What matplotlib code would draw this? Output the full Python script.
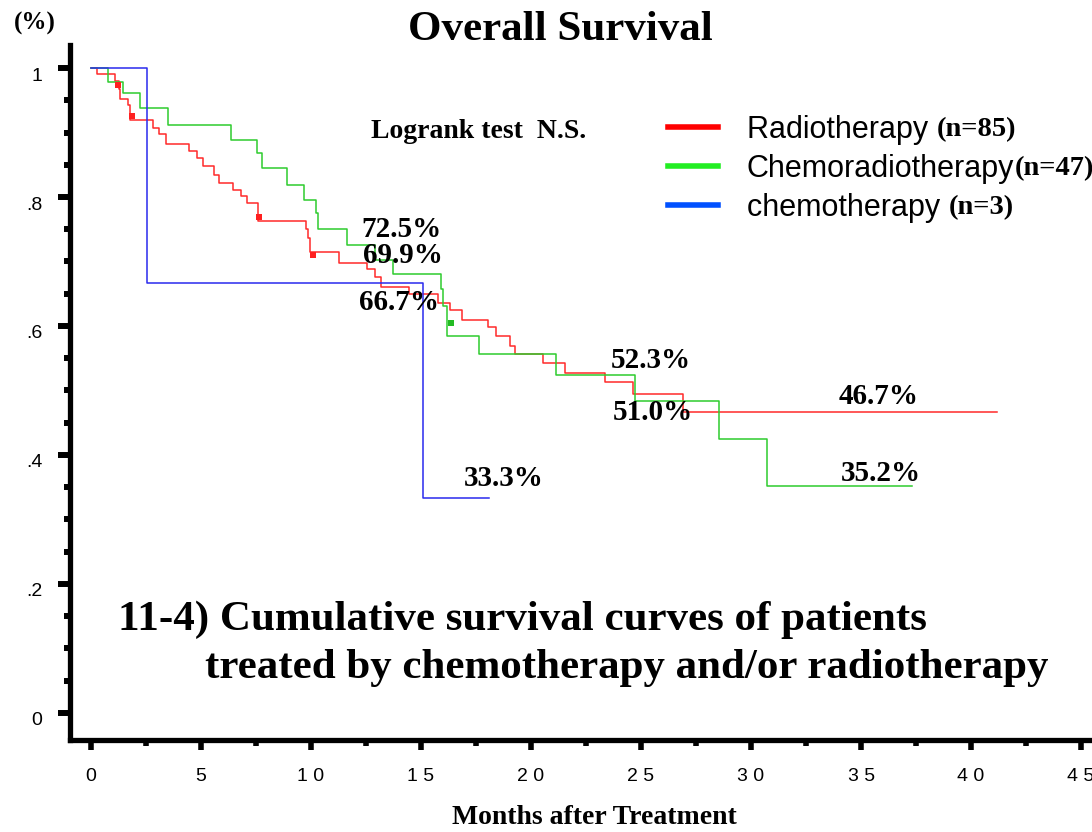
import matplotlib
matplotlib.use('Agg')
import matplotlib.pyplot as plt
from matplotlib.ticker import MultipleLocator, FixedLocator, FixedFormatter
from matplotlib.transforms import ScaledTranslation

# Kaplan-Meier steps: months after treatment, cumulative survival
radio_t = [0, 0.27, 1.09, 1.27, 1.32, 1.69, 1.77, 2.83, 3.09, 3.41, 4.47, 4.83, 5.08,
           5.59, 5.82, 6.47, 6.82, 7.11, 7.58, 9.77, 9.88, 9.95, 11.29, 12.53, 12.91,
           13.17, 14.47, 15.76, 16.32, 16.85, 18.06, 18.41, 19.05, 19.27, 20.56, 21.55,
           23.36, 24.62, 26.92]
radio_s = [1.0, 0.991, 0.980, 0.968, 0.952, 0.942, 0.919, 0.907, 0.898, 0.882, 0.871, 0.860, 0.848,
           0.834, 0.822, 0.811, 0.801, 0.790, 0.763, 0.751, 0.736, 0.715, 0.698, 0.688, 0.676,
           0.661, 0.650, 0.636, 0.625, 0.610, 0.599, 0.584, 0.569, 0.557, 0.543, 0.527,
           0.513, 0.494, 0.467]
radio_end = 41.2
radio_cens_t = [1.24, 1.88, 7.65, 10.1]
radio_cens_s = [0.973, 0.926, 0.769, 0.710]

chemorad_t = [0, 0.79, 1.44, 2.23, 3.51, 6.36, 7.53, 7.79, 8.89, 9.70, 10.23, 10.33, 11.62,
              12.9, 13.74, 15.91, 15.99, 16.17, 17.64, 21.12, 24.73, 28.56, 30.73]
chemorad_s = [1.0, 0.979, 0.961, 0.938, 0.912, 0.889, 0.868, 0.845, 0.819, 0.796, 0.775, 0.751, 0.725,
              0.703, 0.681, 0.658, 0.631, 0.584, 0.557, 0.524, 0.484, 0.424, 0.352]
chemorad_end = 37.3
chemorad_cens_t = [16.35]
chemorad_cens_s = [0.605]

chemo_t = [0, 2.56, 15.1]
chemo_s = [1.0, 0.667, 0.333]
chemo_end = 18.1

# percentage labels (text, month, survival)
pct_labels = ['72.5%', '69.9%', '66.7%', '52.3%', '51.0%', '46.7%', '33.3%', '35.2%']
pct_x = [14.09, 14.18, 14.0, 25.45, 25.55, 35.8, 18.77, 35.9]
pct_y = [0.749, 0.710, 0.636, 0.547, 0.466, 0.490, 0.364, 0.371]

legend_names = ['Radiotherapy ', 'Chemoradiotherapy', 'chemotherapy ']
legend_n = ['(n=85)', '(n=47)', '(n=3)']
legend_colors = ['#ff0000', '#22ee22', '#0050ff']

xtick_vals = [0, 5, 10, 15, 20, 25, 30, 35, 40, 45]
xtick_labels = ['0', '5', '1 0', '1 5', '2 0', '2 5', '3 0', '3 5', '4 0', '4 5']
ytick_vals = [0, 0.2, 0.4, 0.6, 0.8, 1.0]
ytick_labels = ['0', '.2', '.4', '.6', '.8', '1']

W, H = 1092, 832
SERIF = ['Liberation Serif', 'DejaVu Serif']
SANS = ['Liberation Sans', 'DejaVu Sans']


def px(x, y):
    return x / W, 1 - y / H


fig = plt.figure(figsize=(W / 100, H / 100), dpi=100)
ax = fig.add_axes([70 / W, 1 - 740 / H, 1030 / W, (740 - 45) / H])
ax.set_xlim(-0.955, 45.86)
ax.set_ylim(-0.042, 1.0357)


def km(t, s, end):
    return list(t) + [end], list(s) + [s[-1]]


xs, ys = km(radio_t, radio_s, radio_end)
ax.step(xs, ys, where='post', color='#ff2a2a', lw=1.1)
xs, ys = km(chemorad_t, chemorad_s, chemorad_end)
ax.step(xs, ys, where='post', color='#2ecc2e', lw=1.1)
xs, ys = km(chemo_t, chemo_s, chemo_end)
ax.step(xs, ys, where='post', color='#2a2aee', lw=1.1)

ax.plot(radio_cens_t, radio_cens_s, 's', color='#ff2020', ms=4.5, mew=0)
ax.plot(chemorad_cens_t, chemorad_cens_s, 's', color='#22bb22', ms=4.5, mew=0)

for lab, x, y in zip(pct_labels, pct_x, pct_y):
    ax.text(x, y, lab, ha='center', va='center', family=SERIF, weight='bold', fontsize=21)

# axes styling
for side in ['top', 'right']:
    ax.spines[side].set_visible(False)
for side in ['left', 'bottom']:
    ax.spines[side].set_linewidth(3.8)
ax.xaxis.set_major_locator(FixedLocator(xtick_vals))
ax.xaxis.set_major_formatter(FixedFormatter(xtick_labels))
ax.xaxis.set_minor_locator(MultipleLocator(2.5))
ax.yaxis.set_major_locator(FixedLocator(ytick_vals))
ax.yaxis.set_major_formatter(FixedFormatter(ytick_labels))
ax.yaxis.set_minor_locator(MultipleLocator(0.05))
ax.tick_params(axis='x', which='major', length=7.5, width=4, pad=13, labelsize=14)
ax.tick_params(axis='x', which='minor', length=4, width=4)
ax.tick_params(axis='y', which='major', length=9, width=4.3, pad=11, labelsize=14)
ax.tick_params(axis='y', which='minor', length=4.5, width=4.3)
shift = ScaledTranslation(0, -0.06, fig.dpi_scale_trans)
for lab in ax.get_yticklabels():
    lab.set_transform(lab.get_transform() + shift)
for lab in ax.get_xticklabels() + ax.get_yticklabels():
    lab.set_family(SANS)

# figure texts
fig.text(*px(560, 30), 'Overall Survival', ha='center', va='center',
         family=SERIF, weight='bold', fontsize=31)
fig.text(*px(35, 23), '(%)', ha='center', va='center', family=SERIF, weight='bold', fontsize=18)
fig.text(*px(479, 132), 'Logrank test  N.S.', ha='center', va='center',
         family=SERIF, weight='bold', fontsize=20)
fig.text(*px(118, 620), '11-4) Cumulative survival curves of patients', ha='left', va='center',
         family=SERIF, weight='bold', fontsize=31)
fig.text(*px(205, 668), 'treated by chemotherapy and/or radiotherapy', ha='left', va='center',
         family=SERIF, weight='bold', fontsize=31)
fig.text(*px(594, 818), 'Months after Treatment', ha='center', va='center',
         family=SERIF, weight='bold', fontsize=20)

# legend drawn by hand (mixed fonts on each row)
legend_y = [127, 166, 205]
fig.canvas.draw()
renderer = fig.canvas.get_renderer()
for name, n, col, yy in zip(legend_names, legend_n, legend_colors, legend_y):
    fig.add_artist(plt.Line2D([668 / W, 718 / W], [1 - yy / H] * 2, color=col, lw=4))
    t = fig.text(*px(747, yy + 3), name, ha='left', va='center', family=SANS, fontsize=22)
    bb = t.get_window_extent(renderer)
    fig.text(bb.x1 / W, 1 - (yy + 3) / H, n, ha='left', va='center',
             family=SERIF, weight='bold', fontsize=20.5)

fig.savefig('out.png', dpi=100)
